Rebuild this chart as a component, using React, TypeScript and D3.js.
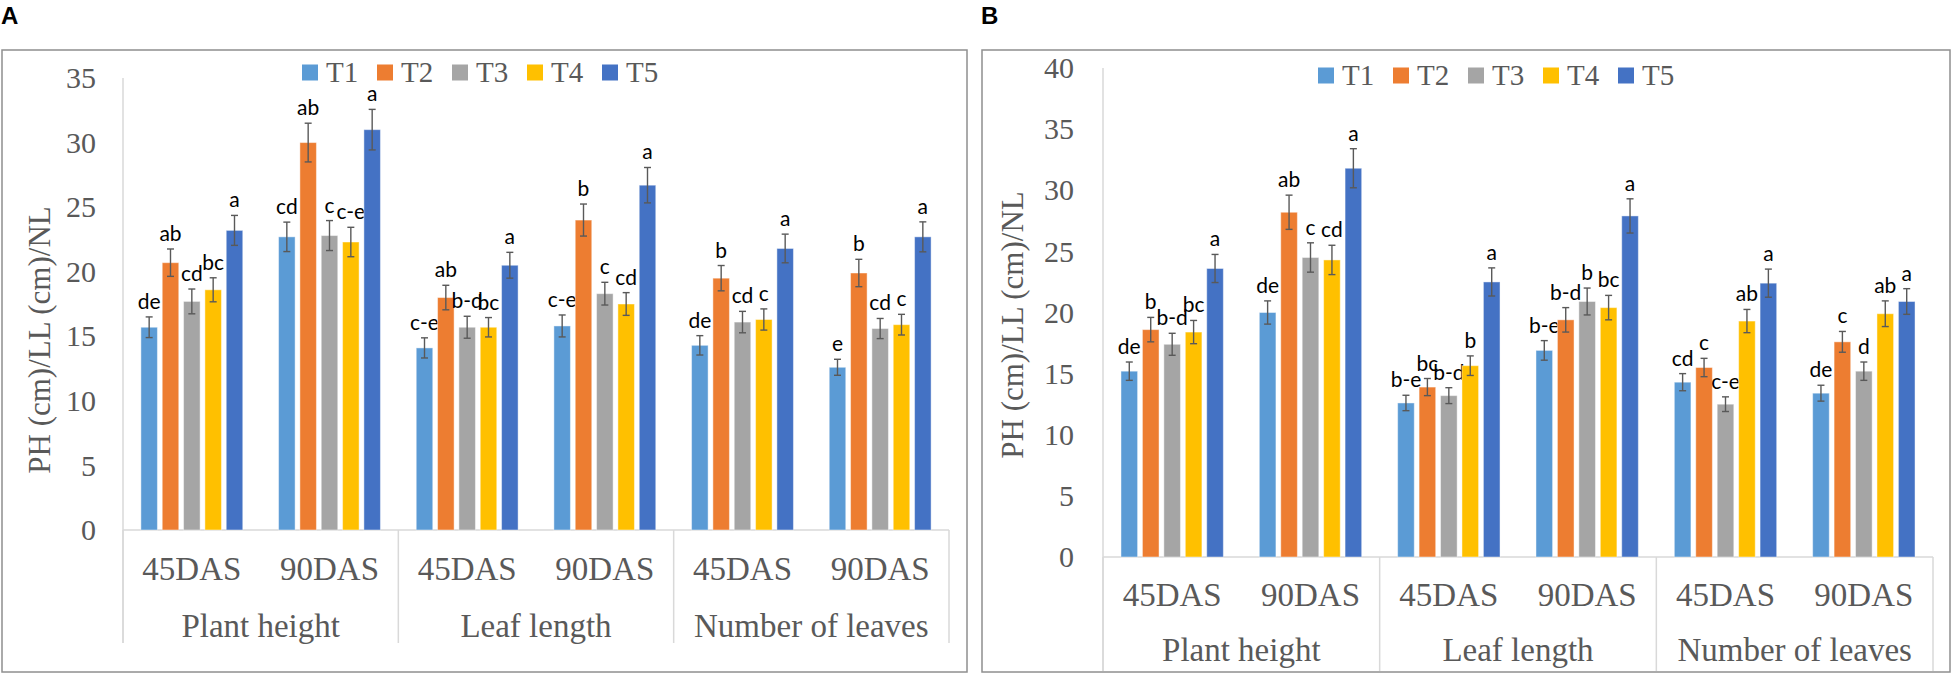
import * as d3 from 'd3';

const groups = ['Plant height', 'Leaf length', 'Number of leaves'];
const stages = ['45DAS', '90DAS'];
const seriesNames = ['T1', 'T2', 'T3', 'T4', 'T5'];
const seriesColors = ['#5B9BD5', '#ED7D31', '#A5A5A5', '#FFC000', '#4472C4'];

// panel A, one row per treatment, columns: PH45, PH90, LL45, LL90, NL45, NL90
const meansA = [
  [15.7, 22.7, 14.1, 15.8, 14.3, 12.6],
  [20.7, 30.0, 18.0, 24.0, 19.5, 19.9],
  [17.7, 22.8, 15.7, 18.3, 16.1, 15.6],
  [18.6, 22.3, 15.7, 17.5, 16.3, 15.9],
  [23.2, 31.0, 20.5, 26.7, 21.8, 22.7],
];
const errorsA = [
  [0.8, 1.14, 0.78, 0.85, 0.75, 0.62],
  [1.06, 1.5, 0.95, 1.24, 0.98, 1.06],
  [0.96, 1.16, 0.85, 0.88, 0.83, 0.78],
  [0.93, 1.14, 0.75, 0.88, 0.82, 0.8],
  [1.16, 1.57, 1.0, 1.37, 1.11, 1.16],
];
const lettersA = [
  ['de', 'cd', 'c-e', 'c-e', 'de', 'e'],
  ['ab', 'ab', 'ab', 'b', 'b', 'b'],
  ['cd', 'c', 'b-d', 'c', 'cd', 'cd'],
  ['bc', 'c-e', 'bc', 'cd', 'c', 'c'],
  ['a', 'a', 'a', 'a', 'a', 'a'],
];

// panel B
const meansB = [
  [15.2, 20.0, 12.6, 16.9, 14.3, 13.4],
  [18.6, 28.2, 13.9, 19.4, 15.5, 17.6],
  [17.4, 24.5, 13.2, 20.9, 12.5, 15.2],
  [18.4, 24.3, 15.65, 20.4, 19.3, 19.9],
  [23.6, 31.8, 22.5, 27.9, 22.4, 20.9],
];
const errorsB = [
  [0.75, 0.95, 0.63, 0.8, 0.7, 0.65],
  [1.0, 1.4, 0.7, 1.0, 0.75, 0.85],
  [0.9, 1.2, 0.65, 1.1, 0.6, 0.75],
  [0.95, 1.2, 0.8, 1.0, 0.95, 1.05],
  [1.15, 1.6, 1.15, 1.4, 1.15, 1.05],
];
const lettersB = [
  ['de', 'de', 'b-e', 'b-e', 'cd', 'de'],
  ['b', 'ab', 'bc', 'b-d', 'c', 'c'],
  ['b-d', 'c', 'b-d', 'b', 'c-e', 'd'],
  ['bc', 'cd', 'b', 'bc', 'ab', 'ab'],
  ['a', 'a', 'a', 'a', 'a', 'a'],
];

const yTitle = 'PH (cm)/LL (cm)/NL';
const SERIF = '"Liberation Serif", "Times New Roman", serif';
const SANS = 'Lato, "Open Sans", sans-serif';
const GREY_TEXT = '#595959';
const GRID = '#d9d9d9';

interface Layout {
  tag: string;
  tagX: number;
  frame: { x: number; y: number; w: number; h: number };
  left: number;
  right: number;
  top: number;
  zeroY: number;
  yMax: number;
  sepBottom: number;
  tickRight: number;
  titleX: number;
  titleY: number;
  stageY: number;
  groupY: number;
  legendX: number;
  legendY: number;
}

interface PanelProps {
  layout: Layout;
  means: number[][];
  errors: number[][];
  letters: string[][];
}

function Panel({ layout: L, means, errors, letters }: PanelProps) {
  const keys = groups.flatMap((g) => stages.map((s) => `${g}|${s}`));
  const x0 = d3.scaleBand<string>().domain(keys).range([L.left, L.right]).padding(0);
  const bw = x0.bandwidth();
  const clusterW = bw * 0.74;
  const x1 = d3
    .scaleBand<number>()
    .domain(d3.range(seriesNames.length))
    .range([(bw - clusterW) / 2, (bw + clusterW) / 2])
    .paddingInner(0.225)
    .paddingOuter(0);
  const y = d3.scaleLinear().domain([0, L.yMax]).range([L.zeroY, L.top]);
  const ticks = d3.range(0, L.yMax + 1, 5);
  const seps = d3.range(0, keys.length + 1, 2).map((i) => L.left + i * x0.step());

  return (
    <g>
      <text x={L.tagX} y={24} fontFamily='"Liberation Sans", Arial, sans-serif' fontWeight="bold" fontSize={24} fill="#000">
        {L.tag}
      </text>
      <rect x={L.frame.x} y={L.frame.y} width={L.frame.w} height={L.frame.h} fill="#fff" stroke="#8f8f8f" strokeWidth={1.5} />

      {/* axis lines and category separators */}
      <line x1={L.left} x2={L.left} y1={L.top} y2={L.sepBottom} stroke={GRID} strokeWidth={1.5} />
      <line x1={L.left} x2={L.right} y1={L.zeroY} y2={L.zeroY} stroke={GRID} strokeWidth={1.5} />
      {seps.map((sx, i) => (
        <line key={i} x1={sx} x2={sx} y1={L.zeroY} y2={L.sepBottom} stroke={GRID} strokeWidth={1.5} />
      ))}

      {/* y tick labels */}
      {ticks.map((t) => (
        <text key={t} x={L.tickRight} y={y(t)} dy="0.34em" textAnchor="end" fontFamily={SERIF} fontSize={30} fill={GREY_TEXT}>
          {t}
        </text>
      ))}
      <text
        transform={`translate(${L.titleX},${L.titleY}) rotate(-90)`}
        textAnchor="middle"
        fontFamily={SERIF}
        fontSize={31}
        fill={GREY_TEXT}
      >
        {yTitle}
      </text>

      {/* x labels */}
      {keys.map((k) => (
        <text key={k} x={x0(k)! + bw / 2} y={L.stageY} textAnchor="middle" fontFamily={SERIF} fontSize={33} fill={GREY_TEXT}>
          {k.split('|')[1]}
        </text>
      ))}
      {groups.map((g, i) => (
        <text key={g} x={L.left + (i * 2 + 1) * x0.step()} y={L.groupY} textAnchor="middle" fontFamily={SERIF} fontSize={33} fill={GREY_TEXT}>
          {g}
        </text>
      ))}

      {/* bars */}
      {seriesNames.map((s, si) => (
        <g key={s}>
          {keys.map((k, ki) => {
            const v = means[si][ki];
            const e = errors[si][ki];
            const bx = x0(k)! + x1(si)!;
            const cx = bx + x1.bandwidth() / 2;
            const yTop = y(v + e);
            const yBot = y(v - e);
            return (
              <g key={k}>
                <rect
                  x={bx}
                  y={y(v)}
                  width={x1.bandwidth()}
                  height={y(0) - y(v)}
                  fill={seriesColors[si]}
                  stroke="#ffffff"
                  strokeOpacity={0.45}
                  strokeWidth={1}
                />
                <g stroke="#595959" strokeWidth={1.4}>
                  <line x1={cx} x2={cx} y1={yTop} y2={yBot} />
                  <line x1={cx - 3.5} x2={cx + 3.5} y1={yTop} y2={yTop} />
                  <line x1={cx - 3.5} x2={cx + 3.5} y1={yBot} y2={yBot} />
                </g>
                <text x={cx} y={yTop - 8} textAnchor="middle" fontFamily={SANS} fontSize={21} fill="#000">
                  {letters[si][ki]}
                </text>
              </g>
            );
          })}
        </g>
      ))}

      {/* legend */}
      {seriesNames.map((s, si) => {
        const lx = L.legendX + si * 75;
        return (
          <g key={s}>
            <rect x={lx} y={L.legendY - 8} width={16} height={16} fill={seriesColors[si]} />
            <text x={lx + 24} y={L.legendY} dy="0.34em" fontFamily={SERIF} fontSize={29} fill={GREY_TEXT}>
              {s}
            </text>
          </g>
        );
      })}
    </g>
  );
}

const layoutA: Layout = {
  tag: 'A',
  tagX: 1,
  frame: { x: 2, y: 50, w: 965, h: 622 },
  left: 123,
  right: 949,
  top: 78,
  zeroY: 530,
  yMax: 35,
  sepBottom: 643,
  tickRight: 96,
  titleX: 50,
  titleY: 340,
  stageY: 580,
  groupY: 637,
  legendX: 302,
  legendY: 72.5,
};

const layoutB: Layout = {
  tag: 'B',
  tagX: 981,
  frame: { x: 982, y: 50, w: 968, h: 622 },
  left: 1103,
  right: 1933,
  top: 68,
  zeroY: 557,
  yMax: 40,
  sepBottom: 671,
  tickRight: 1074,
  titleX: 1023,
  titleY: 325,
  stageY: 606,
  groupY: 661,
  legendX: 1318,
  legendY: 75.5,
};

export default function App() {
  return (
    <svg width={1951} height={673} style={{ position: 'absolute', left: 0, top: 0, background: '#fff' }}>
      <Panel layout={layoutA} means={meansA} errors={errorsA} letters={lettersA} />
      <Panel layout={layoutB} means={meansB} errors={errorsB} letters={lettersB} />
    </svg>
  );
}
